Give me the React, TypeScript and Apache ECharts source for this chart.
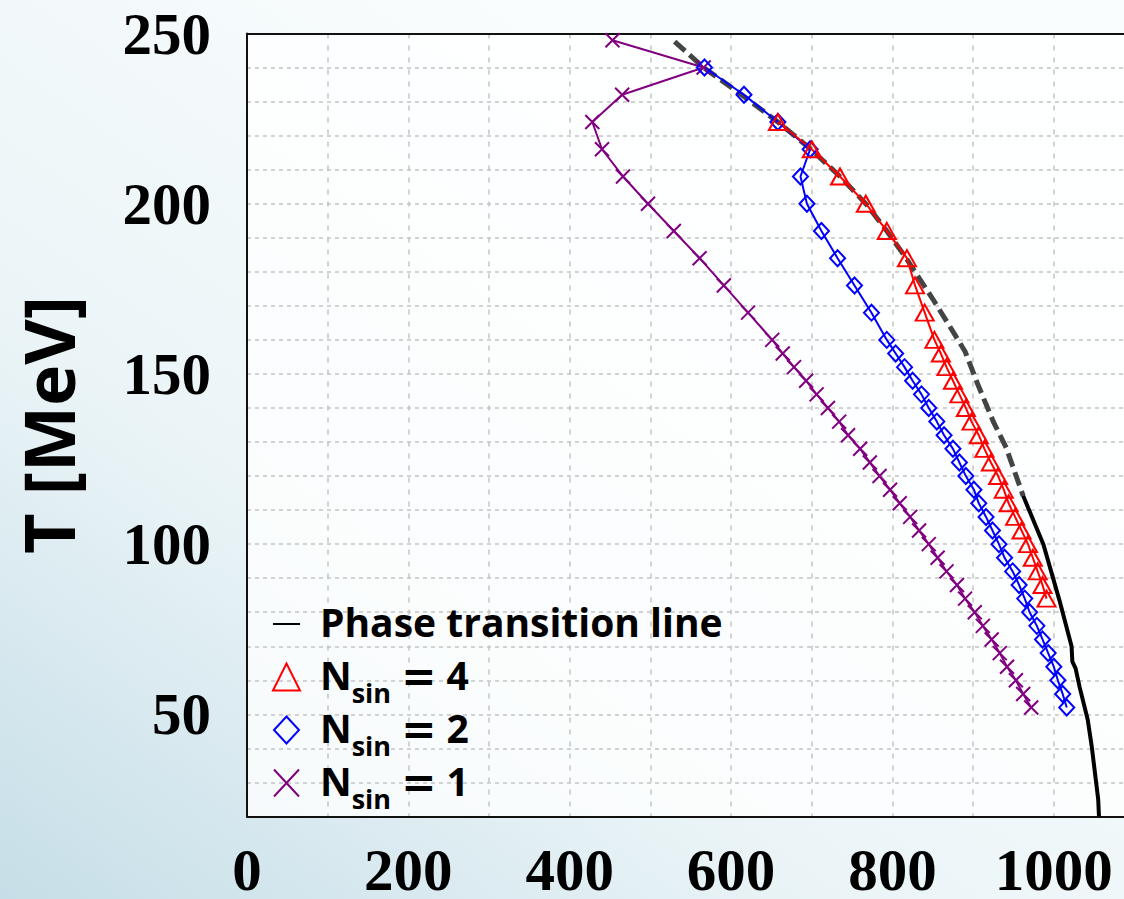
import React, { useEffect, useRef } from "react";
import * as echarts from "echarts";

// ---- data ----
const X_AXIS_MIN = 0;
const X_AXIS_MAX = 1087;
const Y_AXIS_MIN = 20;
const Y_AXIS_MAX = 250;

const PHASE_DASHED_X = [530, 566, 613, 658, 699, 735, 767, 793, 817, 850, 871, 890, 906, 925, 941, 962];
const PHASE_DASHED_T = [247.6, 240, 232, 224, 216, 208, 200, 192, 184, 172, 164, 156.6, 146.8, 136, 128.3, 114.2];

const PHASE_SOLID_X = [962, 987, 1007, 1022, 1023, 1027, 1032, 1042, 1047, 1052, 1055, 1056];
const PHASE_SOLID_T = [114.2, 100, 83.5, 70, 65.5, 63.5, 58, 48.5, 40.6, 30.9, 25.1, 20];

const N4_T = [224, 216, 208, 200, 192, 184, 176, 168, 160, 156, 152, 148, 144, 140, 136, 132, 128, 124, 120, 116, 112, 108, 104, 100, 96, 92, 88, 84];
const N4_X = [658, 700, 735, 767, 793, 818, 828, 840, 852, 860, 867, 875, 883, 891, 898, 907, 914, 922, 931, 938, 944, 952, 960, 968, 974, 980, 986, 991];

const N2_T = [240, 232, 224, 216, 208, 200, 192, 184, 176, 168, 160, 156, 152, 148, 144, 140, 136, 132, 128, 124, 120, 116, 112, 108, 104, 100, 96, 92, 88, 84, 80, 76, 72, 68, 64, 60, 56, 52];
const N2_X = [567, 616, 658, 698, 686, 694, 712, 732, 753, 774, 793, 804, 815, 825, 836, 845, 855, 864, 875, 883, 891, 901, 907, 916, 924, 932, 939, 949, 957, 964, 970, 979, 986, 993, 1000, 1005, 1011, 1016];

const N1_T = [248, 240, 232, 224, 216, 208, 200, 192, 184, 176, 168, 160, 156, 152, 148, 144, 140, 136, 132, 128, 124, 120, 116, 112, 108, 104, 100, 96, 92, 88, 84, 80, 76, 72, 68, 64, 60, 56, 52];
const N1_X = [453, 566, 465, 428, 440, 466, 497, 529, 561, 591, 621, 651, 664, 678, 693, 706, 720, 734, 745, 760, 772, 784, 797, 809, 822, 833, 845, 856, 867, 880, 890, 902, 912, 923, 933, 942, 953, 962, 972];

const SERIES_NAMES = ["Phase transition line", "N_sin = 4", "N_sin = 2", "N_sin = 1"];
const LEGEND_LABELS: Record<string, string> = {
  "Phase transition line": "{n|Phase transition line}{s| }",
  "N_sin = 4": "{n|N}{s|sin}{n| }{e|=}{n| 4}",
  "N_sin = 2": "{n|N}{s|sin}{n| }{e|=}{n| 2}",
  "N_sin = 1": "{n|N}{s|sin}{n| }{e|=}{n| 1}",
};
const Y_AXIS_TITLE = "T [MeV]";

const zip = (xs: number[], ys: number[]) => xs.map((x, i) => [x, ys[i]]);

const RED = "#ff0000";
const BLUE = "#0000ff";
const PURPLE = "#800080";

export default function App() {
  const ref = useRef<HTMLDivElement>(null);

  useEffect(() => {
    if (!ref.current) return;
    const chart = echarts.init(ref.current, undefined, { renderer: "svg", width: 1124, height: 899 });

    const serifLabel = {
      fontFamily: "'Liberation Serif', 'DejaVu Serif', serif",
      fontWeight: "bold" as const,
      fontSize: 59,
      color: "#000",
    };
    const sans = "'Open Sans', 'DejaVu Sans', sans-serif";
    const gridDashH = { color: "#c4c4c4", width: 1.5, type: [4, 4] };
    const gridDashV = { color: "#c4c4c4", width: 1.5, type: [5, 7] };
    const frame = { show: true, onZero: false, lineStyle: { color: "#111", width: 2 } };

    const option: any = {
      animation: false,
      backgroundColor: {
        type: "linear",
        x: 0,
        y: 1,
        x2: 0.7,
        y2: 0.2,
        colorStops: [
          { offset: 0, color: "#c6dee7" },
          { offset: 0.45, color: "#eaf4f7" },
          { offset: 1, color: "#fafdfe" },
        ],
      },
      grid: {
        left: 247,
        top: 33.5,
        right: 0,
        bottom: 77,
        show: true,
        backgroundColor: "rgba(255,255,255,0.78)",
        borderWidth: 0,
      },
      xAxis: [
        {
          type: "value",
          min: X_AXIS_MIN,
          max: X_AXIS_MAX,
          interval: 100,
          axisLine: frame,
          axisTick: { show: false },
          splitLine: { show: true, showMinLine: false, showMaxLine: false, lineStyle: gridDashV },
          axisLabel: {
            ...serifLabel,
            lineHeight: 44,
            margin: 31,
            showMaxLabel: false,
            formatter: (v: number) => (v % 200 === 0 && v <= 1000 ? String(v) : ""),
          },
        },
        {
          type: "value",
          position: "top",
          min: X_AXIS_MIN,
          max: X_AXIS_MAX,
          interval: 100,
          axisLine: frame,
          axisTick: { show: false },
          axisLabel: { show: false },
          splitLine: { show: false },
        },
      ],
      yAxis: {
        type: "value",
        min: Y_AXIS_MIN,
        max: Y_AXIS_MAX,
        interval: 10,
        axisLine: frame,
        axisTick: { show: false },
        splitLine: { show: true, showMinLine: false, showMaxLine: false, lineStyle: gridDashH },
        axisLabel: {
          ...serifLabel,
          lineHeight: 44,
          margin: 36,
          formatter: (v: number) => (v % 50 === 0 ? String(v) : ""),
        },
        name: Y_AXIS_TITLE,
        nameLocation: "middle",
        nameGap: 164,
        nameRotate: 90,
        nameTextStyle: {
          fontFamily: sans,
          fontWeight: "bold",
          fontSize: 70,
          lineHeight: 70,
          color: "#000",
        },
      },
      legend: {
        orient: "vertical",
        left: 272,
        top: 602,
        padding: 0,
        itemWidth: 42,
        itemHeight: 29,
        itemGap: 2,
        selectedMode: false,
        data: [
          {
            name: SERIES_NAMES[0],
            icon: "path://M0,0M0,13.5L27,13.5L27,15.5L0,15.5ZM42,29",
            itemStyle: { color: "#000", borderColor: "#000", borderWidth: 0 },
          },
          {
            name: SERIES_NAMES[1],
            icon: "path://M0,0M0,28L13.5,1L27,28ZM42,29",
            itemStyle: { color: "transparent", borderColor: RED, borderWidth: 2 },
          },
          {
            name: SERIES_NAMES[2],
            icon: "path://M0,0M13.5,1L26,14.5L13.5,28L1,14.5ZM42,29",
            itemStyle: { color: "transparent", borderColor: BLUE, borderWidth: 2 },
          },
          {
            name: SERIES_NAMES[3],
            icon: "path://M0,0M1,1L26,28M26,1L1,28M42,29",
            itemStyle: { color: "transparent", borderColor: PURPLE, borderWidth: 2 },
          },
        ],
        formatter: (name: string) => LEGEND_LABELS[name] ?? name,
        textStyle: {
          fontFamily: sans,
          fontWeight: "bold",
          fontSize: 39,
          color: "#000",
          rich: {
            n: { fontFamily: sans, fontWeight: "bold", fontSize: 39, lineHeight: 44, verticalAlign: "top", color: "#000" },
            s: { fontFamily: sans, fontWeight: "bold", fontSize: 27, lineHeight: 18, padding: [24, 0, 0, 0], verticalAlign: "top", color: "#000" },
            e: { fontFamily: "'DejaVu Sans', sans-serif", fontWeight: "bold", fontSize: 42, lineHeight: 44, verticalAlign: "top", color: "#000" },
          },
        },
      },
      series: [
        {
          name: "Phase transition line (dashed part)",
          type: "line",
          data: zip(PHASE_DASHED_X, PHASE_DASHED_T),
          showSymbol: false,
          symbol: "none",
          lineStyle: { color: "#444444", width: 5, type: [14, 6] },
          itemStyle: { color: "#444444" },
        },
        {
          name: SERIES_NAMES[0],
          type: "line",
          data: zip(PHASE_SOLID_X, PHASE_SOLID_T),
          showSymbol: false,
          symbol: "none",
          lineStyle: { color: "#000", width: 4 },
          itemStyle: { color: "#000" },
        },
        {
          name: SERIES_NAMES[3],
          type: "line",
          data: zip(N1_X, N1_T),
          symbol: "path://M0,0L10,10M10,0L0,10",
          symbolSize: 14,
          showAllSymbol: true,
          lineStyle: { color: PURPLE, width: 2 },
          itemStyle: { color: "transparent", borderColor: PURPLE, borderWidth: 2 },
        },
        {
          name: SERIES_NAMES[2],
          type: "line",
          data: zip(N2_X, N2_T),
          symbol: "diamond",
          symbolSize: [15, 16],
          showAllSymbol: true,
          lineStyle: { color: BLUE, width: 2 },
          itemStyle: { color: "transparent", borderColor: BLUE, borderWidth: 2 },
        },
        {
          name: SERIES_NAMES[1],
          type: "line",
          data: zip(N4_X, N4_T),
          symbol: "triangle",
          symbolSize: [18, 16],
          showAllSymbol: true,
          lineStyle: { color: RED, width: 2 },
          itemStyle: { color: "transparent", borderColor: RED, borderWidth: 2 },
        },
      ],
    };

    chart.setOption(option);
    return () => chart.dispose();
  }, []);

  return (
    <div
      ref={ref}
      style={{ position: "fixed", left: 0, top: 0, width: 1124, height: 899 }}
    />
  );
}
